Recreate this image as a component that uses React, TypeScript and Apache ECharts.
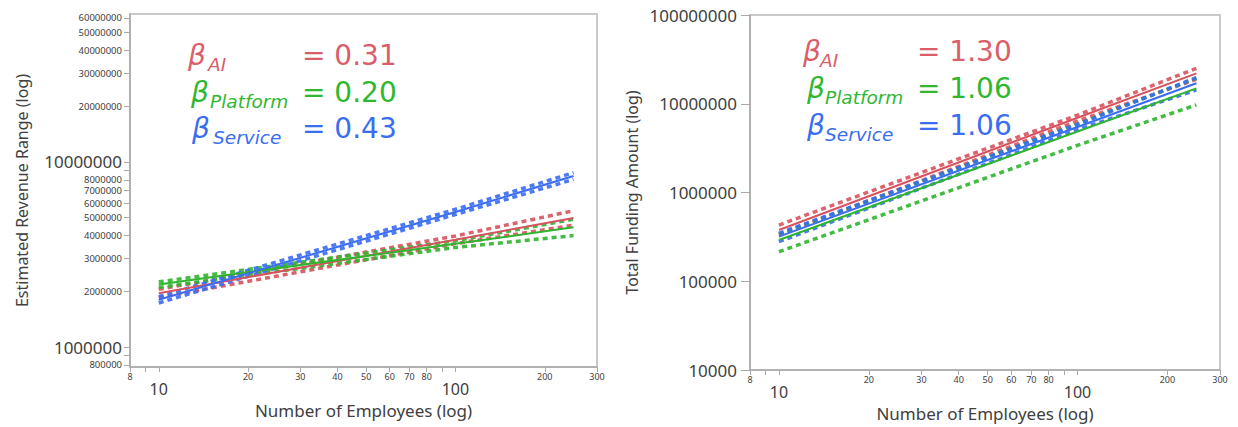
import React, { useEffect, useRef } from "react";
import * as echarts from "echarts";

// ---------- data ----------
const employees = [10, 100, 250];

// Left panel: Estimated Revenue Range
const revenueAI = [1.95e6, 3.8e6, 4.98e6];
const revenueAIUpper = [2.05e6, 3.98e6, 5.45e6];
const revenueAILower = [1.85e6, 3.62e6, 4.55e6];
const revenuePlatform = [2.18e6, 3.61e6, 4.44e6];
const revenuePlatformUpper = [2.25e6, 3.75e6, 4.9e6];
const revenuePlatformLower = [2.1e6, 3.45e6, 4.0e6];
const revenueService = [1.8e6, 5.37e6, 8.4e6];
const revenueServiceUpper = [1.87e6, 5.55e6, 8.75e6];
const revenueServiceLower = [1.73e6, 5.2e6, 8.05e6];

// Right panel: Total Funding Amount
const fundingAI = [3.78e5, 6.95e6, 2.2e7];
const fundingAIUpper = [4.3e5, 7.45e6, 2.51e7];
const fundingAILower = [3.32e5, 6.4e6, 1.88e7];
const fundingPlatform = [2.92e5, 4.87e6, 1.49e7];
const fundingPlatformUpper = [3.4e5, 5.9e6, 1.95e7];
const fundingPlatformLower = [2.15e5, 3.4e6, 9.7e6];
const fundingService = [3.18e5, 5.47e6, 1.7e7];
const fundingServiceUpper = [3.47e5, 5.85e6, 1.97e7];
const fundingServiceLower = [2.79e5, 5.1e6, 1.43e7];

const groups = ["AI", "Platform", "Service"];
const revenueBetas = ["0.31", "0.20", "0.43"];
const fundingBetas = ["1.30", "1.06", "1.06"];

const xTickValues = [8, 9, 10, 20, 30, 40, 50, 60, 70, 80, 90, 100, 200, 300];
const xLabelValues = [8, 10, 20, 30, 40, 50, 60, 70, 80, 100, 200, 300];
const xBigLabels = [10, 100];
const revTickValues = [
  800000, 900000, 1000000, 2000000, 3000000, 4000000, 5000000, 6000000, 7000000,
  8000000, 9000000, 10000000, 20000000, 30000000, 40000000, 50000000, 60000000,
];
const revLabelValues = [
  800000, 1000000, 2000000, 3000000, 4000000, 5000000, 6000000, 7000000, 8000000,
  10000000, 20000000, 30000000, 40000000, 50000000, 60000000,
];
const revBigLabels = [1000000, 10000000];
const fundTickValues = [10000, 100000, 1000000, 10000000, 100000000];

// ---------- styling ----------
const COLORS = ["#d6525e", "#2db52d", "#386cf2"];
const TEXT_COLORS = ["#d95e69", "#2fb72f", "#3a6ef2"];
const AXIS_COLOR = "#a9a9a9";
const LABEL_COLOR = "#404040";
const FONT = "Noto Sans";

function xAxisDef(gridIndex: number, nameGap: number) {
  return {
    type: "log",
    gridIndex,
    logBase: 10,
    min: 8,
    max: 300,
    name: "Number of Employees (log)",
    nameLocation: "middle",
    nameGap,
    nameTextStyle: { color: LABEL_COLOR, fontSize: 17, fontFamily: FONT },
    axisLine: { show: true, lineStyle: { color: AXIS_COLOR, width: 1.5 } },
    axisTick: { show: true, customValues: xTickValues, length: 5, lineStyle: { color: AXIS_COLOR, width: 1 } },
    axisLabel: {
      customValues: xLabelValues,
      showMinLabel: true,
      showMaxLabel: true,
      margin: 5,
      formatter: (v: number) => (xBigLabels.includes(Math.round(v)) ? `{b|${Math.round(v)}}` : `{s|${Math.round(v)}}`),
      rich: {
        b: { fontSize: 16, color: LABEL_COLOR, fontFamily: FONT, padding: [9, 0, 0, 0] },
        s: { fontSize: 9, color: LABEL_COLOR, fontFamily: FONT },
      },
    },
    splitLine: { show: false },
    minorTick: { show: false },
  };
}

function buildSeries(
  xIdx: number,
  sets: { fit: number[]; up: number[]; lo: number[] }[]
) {
  const out: any[] = [];
  const toData = (arr: number[]) => employees.map((x, i) => [x, arr[i]]);
  sets.forEach((s, g) => {
    [s.up, s.lo].forEach((arr) => {
      out.push({
        type: "line",
        xAxisIndex: xIdx,
        yAxisIndex: xIdx,
        data: toData(arr),
        showSymbol: false,
        symbol: "none",
        lineStyle: { color: COLORS[g], width: 3.5, type: [5, 4], opacity: 0.9 },
        z: 2,
      });
    });
  });
  sets.forEach((s, g) => {
    out.push({
      type: "line",
      xAxisIndex: xIdx,
      yAxisIndex: xIdx,
      data: toData(s.fit),
      showSymbol: false,
      symbol: "none",
      lineStyle: { color: COLORS[g], width: 2 },
      z: 3,
    });
  });
  return out;
}

function legendGraphics(
  betas: string[],
  rowsY: number[],
  betaX: number[],
  subX: number[],
  eqX: number
) {
  const els: any[] = [];
  groups.forEach((g, i) => {
    els.push({
      type: "text",
      x: betaX[i],
      y: rowsY[i],
      style: {
        text: "β",
        fill: TEXT_COLORS[i],
        font: `italic 28px "DejaVu Sans"`,
        verticalAlign: "middle",
        align: "left",
      },
    });
    els.push({
      type: "text",
      x: subX[i],
      y: rowsY[i] + 9,
      style: {
        text: g,
        fill: TEXT_COLORS[i],
        font: `italic 18.5px "DejaVu Sans"`,
        verticalAlign: "middle",
        align: "left",
      },
    });
    els.push({
      type: "text",
      x: eqX,
      y: rowsY[i],
      style: {
        text: `= ${betas[i]}`,
        fill: TEXT_COLORS[i],
        font: `28px "DejaVu Sans"`,
        verticalAlign: "middle",
        align: "left",
      },
    });
  });
  return els;
}

export default function App() {
  const ref = useRef<HTMLDivElement>(null);
  useEffect(() => {
    if (!ref.current) return;
    const chart = echarts.init(ref.current, undefined, { renderer: "svg" });
    const option: any = {
      animation: false,
      backgroundColor: "#ffffff",
      grid: [
        { left: 130, top: 14, width: 467, height: 353, show: true, borderColor: "#c9c9c9", borderWidth: 2, containLabel: false },
        { left: 750, top: 15, width: 470, height: 355, show: true, borderColor: "#c9c9c9", borderWidth: 2, containLabel: false },
      ],
      xAxis: [xAxisDef(0, 35), xAxisDef(1, 34)],
      yAxis: [
        {
          type: "log",
          gridIndex: 0,
          logBase: 10,
          min: 780000,
          max: 63000000,
          name: "Estimated Revenue Range (log)",
          nameLocation: "middle",
          nameGap: 100,
          nameTextStyle: { color: LABEL_COLOR, fontSize: 16, fontFamily: FONT },
          axisLine: { show: true, lineStyle: { color: AXIS_COLOR, width: 1.5 } },
          axisTick: { show: true, customValues: revTickValues, length: 6, lineStyle: { color: AXIS_COLOR, width: 1 } },
          axisLabel: {
            customValues: revLabelValues,
            showMinLabel: true,
            showMaxLabel: true,
            margin: 8,
            formatter: (v: number) => (revBigLabels.includes(Math.round(v)) ? `{b|${Math.round(v)}}` : `{s|${Math.round(v)}}`),
            rich: {
              b: { fontSize: 17, color: LABEL_COLOR, fontFamily: FONT },
              s: { fontSize: 9.5, lineHeight: 8, color: LABEL_COLOR, fontFamily: FONT },
            },
          },
          splitLine: { show: false },
          minorTick: { show: false },
        },
        {
          type: "log",
          gridIndex: 1,
          logBase: 10,
          min: 10000,
          max: 100000000,
          name: "Total Funding Amount (log)",
          nameLocation: "middle",
          nameGap: 110,
          nameTextStyle: { color: LABEL_COLOR, fontSize: 16, fontFamily: FONT },
          axisLine: { show: true, lineStyle: { color: AXIS_COLOR, width: 1.5 } },
          axisTick: { show: true, customValues: fundTickValues, length: 9, lineStyle: { color: AXIS_COLOR, width: 1 } },
          axisLabel: {
            customValues: fundTickValues,
            showMinLabel: true,
            showMaxLabel: true,
            margin: 13,
            formatter: (v: number) => `${Math.round(v)}`,
            fontSize: 17,
            color: LABEL_COLOR,
            fontFamily: FONT,
          },
          splitLine: { show: false },
          minorTick: { show: false },
        },
      ],
      series: [
        ...buildSeries(0, [
          { fit: revenueAI, up: revenueAIUpper, lo: revenueAILower },
          { fit: revenuePlatform, up: revenuePlatformUpper, lo: revenuePlatformLower },
          { fit: revenueService, up: revenueServiceUpper, lo: revenueServiceLower },
        ]),
        ...buildSeries(1, [
          { fit: fundingAI, up: fundingAIUpper, lo: fundingAILower },
          { fit: fundingPlatform, up: fundingPlatformUpper, lo: fundingPlatformLower },
          { fit: fundingService, up: fundingServiceUpper, lo: fundingServiceLower },
        ]),
      ],
      graphic: [
        ...legendGraphics(revenueBetas, [55, 92, 128], [188, 191, 192], [208, 210, 213], 302),
        ...legendGraphics(fundingBetas, [51, 88, 125], [803, 807, 807], [820, 825, 825], 917),
      ],
    };
    chart.setOption(option);
    return () => chart.dispose();
  }, []);
  return (
    <div
      ref={ref}
      style={{ position: "fixed", left: 0, top: 0, width: 1238, height: 427, background: "#fff" }}
    />
  );
}
